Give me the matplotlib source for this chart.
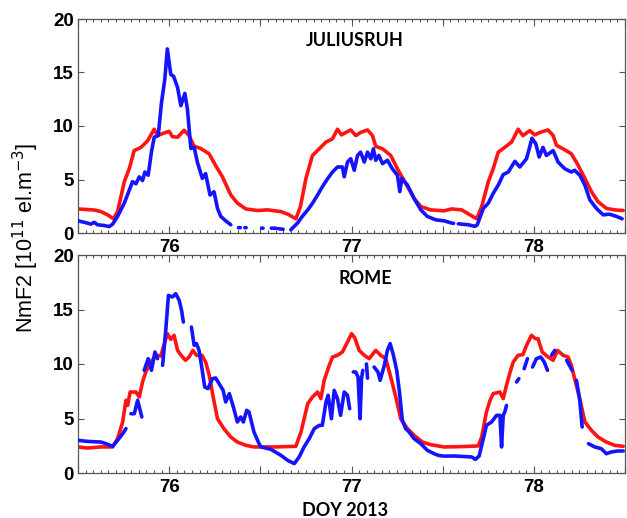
import numpy as np
import matplotlib
matplotlib.use("Agg")
import matplotlib.pyplot as plt
from matplotlib.ticker import MultipleLocator, FixedLocator, FixedFormatter

nan = np.nan

# ---- JULIUSRUH: model (red) and observed (blue) NmF2, 1e11 el/m^3 ----
jul_model_t = [75.498, 75.589, 75.626, 75.662, 75.695, 75.717, 75.754, 75.781, 75.808, 75.845,
               75.881, 75.918, 75.936, 75.973, 76.0, 76.018, 76.046, 76.082, 76.109, 76.137,
               76.173, 76.219, 76.255, 76.292, 76.338, 76.374, 76.42, 76.484, 76.54, 76.613,
               76.65, 76.695, 76.72, 76.75, 76.786, 76.823, 76.86, 76.896, 76.923, 76.945,
               76.969, 76.996, 77.024, 77.05, 77.088, 77.115, 77.133, 77.17, 77.215, 77.252,
               77.297, 77.343, 77.38, 77.434, 77.507, 77.549, 77.604, 77.65, 77.686, 77.714,
               77.75, 77.777, 77.805, 77.84, 77.878, 77.914, 77.94, 77.978, 78.005, 78.033,
               78.078, 78.106, 78.124, 78.16, 78.206, 78.243, 78.28, 78.316, 78.352, 78.398,
               78.443, 78.49]
jul_model_v = [2.25, 2.15, 2.0, 1.7, 1.33, 2.0, 4.8, 6.0, 7.7, 8.0,
               8.6, 9.7, 9.1, 9.35, 9.5, 9.0, 8.95, 9.6, 9.1, 8.1,
               7.9, 7.4, 6.3, 5.25, 3.55, 2.8, 2.25, 2.1, 2.16, 2.0,
               1.76, 1.33, 2.47, 5.1, 7.25, 7.87, 8.5, 8.8, 9.7, 9.17,
               9.4, 9.63, 9.1, 9.4, 9.63, 9.1, 8.1, 7.87, 7.25, 6.0,
               4.63, 3.24, 2.47, 2.16, 2.07, 2.25, 2.16, 1.7, 1.33, 2.47,
               4.78, 6.0, 7.56, 8.0, 8.5, 9.7, 9.1, 9.57, 9.17, 9.4,
               9.63, 9.1, 8.2, 7.87, 7.4, 6.33, 5.1, 3.86, 2.93, 2.3,
               2.16, 2.1]

jul_obs_t = [75.498, 75.535, 75.571, 75.589, 75.607, 75.644, 75.671, 75.69, 75.717, 75.754,
             75.781, 75.799, 75.818, 75.836, 75.854, 75.867, 75.885, 75.903, 75.918, 75.94,
             75.958, 75.976, 75.99, 76.009, 76.024, 76.046, 76.064, 76.086, 76.1, 76.119,
             76.137, 76.155, 76.182, 76.2, 76.224, 76.246, 76.265, 76.283, 76.31, 76.338,
             nan, 76.38, 76.39, nan, 76.415, 76.422, nan, 76.508, 76.515, nan, 76.56, 76.585,
             nan, 76.6, 76.625, nan,
             76.667, 76.704, 76.73, 76.76, 76.786, 76.814, 76.84, 76.87, 76.896, 76.923,
             76.95, 76.96, 76.978, 76.996, 77.015, 77.033, 77.05, 77.07, 77.088, 77.106,
             77.12, 77.133, 77.15, 77.17, 77.197, 77.224, 77.252, 77.265, 77.276, 77.307,
             77.343, 77.38, 77.416, 77.462, 77.507, 77.549, 77.56, nan, 77.586, 77.64,
             77.677, 77.69, 77.723, 77.75, 77.777, 77.805, 77.832, 77.86, 77.896, 77.923,
             77.96, 77.99, 78.011, 78.029, 78.05, 78.069, 78.106, 78.133, 78.17, 78.206,
             78.224, 78.252, 78.28, 78.307, 78.343, 78.38, 78.416, 78.453, 78.484]
jul_obs_v = [1.14, 1.0, 0.83, 1.0, 0.77, 0.7, 0.6, 0.83, 1.55, 2.8,
             4.0, 4.8, 4.6, 5.25, 4.9, 5.7, 5.4, 7.6, 8.95, 9.1,
             12.2, 14.35, 17.2, 14.8, 14.66, 13.6, 11.9, 13.05, 11.6, 7.9,
             8.0, 6.6, 5.1, 5.55, 3.55, 3.86, 2.3, 1.55, 1.14, 0.77,
             nan, 0.5, 0.5, nan, 0.5, 0.5, nan, 0.45, 0.45, nan, 0.45, 0.45,
             nan, 0.4, 0.35, nan,
             0.3, 0.93, 1.55, 2.16, 2.78, 3.55, 4.32, 5.1, 5.7, 6.17,
             6.17, 5.25, 6.63, 6.94, 5.86, 7.25, 7.56, 6.63, 7.56, 6.94,
             7.87, 6.8, 7.25, 6.48, 6.8, 6.0, 5.4, 3.86, 5.1, 4.48,
             3.24, 2.16, 1.55, 1.23, 1.14, 0.93, 0.9, nan, 0.86, 0.77,
             0.62, 0.77, 2.3, 2.78, 3.7, 4.48, 5.46, 5.7, 6.7, 6.17,
             6.94, 8.86, 8.33, 7.1, 8.0, 7.25, 7.7, 6.63, 6.0, 5.7,
             5.86, 5.4, 4.48, 3.1, 2.3, 1.7, 1.76, 1.55, 1.33]

# ---- ROME: model (red) and observed (blue) NmF2 ----
rom_model_t = [75.498, 75.553, 75.626, 75.69, 75.717, 75.745, 75.763, 75.772, 75.786, 75.818,
               75.836, 75.854, 75.872, 75.9, 75.927, 75.954, 75.976, 75.99, 76.009, 76.027,
               76.046, 76.073, 76.09, 76.109, 76.13, 76.15, 76.18, 76.2, 76.22, 76.243,
               76.265, 76.3, 76.338, 76.374, 76.42, 76.465, 76.58, 76.695, 76.723, 76.76,
               76.786, 76.814, 76.832, 76.85, 76.878, 76.896, 76.923, 76.95, 76.978, 77.0,
               77.018, 77.042, 77.07, 77.097, 77.133, 77.16, 77.188, 77.215, 77.243, 77.27,
               77.307, 77.343, 77.389, 77.434, 77.507, 77.6, 77.695, 77.714, 77.74, 77.76,
               77.777, 77.814, 77.832, 77.85, 77.87, 77.887, 77.914, 77.94, 77.96, 77.987,
               78.009, 78.023, 78.046, 78.078, 78.106, 78.13, 78.16, 78.188, 78.206, 78.224,
               78.252, 78.28, 78.316, 78.352, 78.398, 78.443, 78.49]
rom_model_v = [2.39, 2.29, 2.39, 2.39, 3.15, 4.68, 6.67, 6.2, 7.43, 7.43,
               6.97, 8.35, 9.27, 10.18, 10.8, 10.73, 12.0, 12.78, 12.26, 12.63,
               11.25, 10.64, 10.34, 10.64, 11.25, 10.8, 10.8, 10.18, 8.96, 6.82,
               4.98, 4.07, 3.3, 2.84, 2.54, 2.39, 2.39, 2.45, 3.76, 6.36,
               6.97, 7.43, 6.82, 8.5, 9.88, 10.64, 10.8, 11.1, 12.02, 12.78,
               12.39, 11.25, 10.8, 10.49, 11.25, 10.8, 10.49, 8.81, 6.97, 4.98,
               4.07, 3.46, 2.84, 2.6, 2.39, 2.42, 2.48, 3.3, 5.6, 6.67,
               7.28, 7.43, 6.82, 8.04, 9.27, 10.18, 10.8, 10.86, 11.71, 12.63,
               12.32, 12.32, 11.1, 10.64, 10.34, 11.25, 10.8, 10.64, 9.88, 8.65,
               6.82, 4.68, 3.91, 3.3, 2.84, 2.54, 2.45]

rom_obs_t = [75.498, 75.553, 75.626, 75.653, 75.69, 75.717, 75.745, 75.763, nan,
             75.79, 75.809, 75.827, 75.85, nan,
             75.863, 75.885, 75.903, 75.922, 75.936, nan,
             75.964, 75.982, 75.996, 76.018, 76.036, 76.055, 76.068, 76.078, nan,
             76.122, 76.137, 76.15, 76.164, 76.18, 76.195, 76.213, 76.237, 76.255, 76.274,
             76.296, 76.31, 76.33, 76.352, 76.374, 76.392, 76.407, 76.425, 76.438, 76.465,
             76.493, 76.504, 76.558, 76.613, 76.65, 76.686, 76.713, 76.74, 76.768, 76.796,
             76.823, 76.84, 76.86, 76.872, 76.89, 76.905, 76.923, 76.94, 76.96, 76.978,
             76.99, nan,
             77.01, 77.023, 77.036, 77.047, 77.055, 77.062, nan,
             77.082, 77.088, nan,
             77.124, 77.145, 77.157, 77.18, 77.197, 77.212, 77.23, 77.248, 77.263, 77.279,
             77.297, 77.316, 77.343, 77.38, 77.416, 77.453, 77.48, 77.507, 77.567, 77.659,
             77.68, 77.7, 77.723, 77.74, 77.768, 77.796, 77.814, 77.823, 77.832, 77.841,
             77.85, nan,
             77.905, 77.918, nan,
             77.947, 77.965, nan,
             77.993, 78.014, 78.038, 78.057, 78.075, nan,
             78.097, 78.115, nan,
             78.18, 78.2, 78.21, nan,
             78.234, 78.252, 78.265, nan,
             78.3, 78.334, 78.37, 78.398, 78.425, 78.46, 78.49]
rom_obs_v = [3.0, 2.9, 2.84, 2.69, 2.45, 3.0, 3.6, 4.07, nan,
             5.44, 5.44, 6.67, 5.14, nan,
             9.42, 10.49, 9.42, 11.1, 10.49, nan,
             9.88, 13.24, 16.3, 16.15, 16.45, 15.84, 14.92, 13.85, nan,
             13.39, 11.71, 11.87, 11.25, 9.57, 7.89, 7.74, 8.65, 8.72, 8.2,
             7.58, 6.51, 7.28, 6.06, 4.68, 5.14, 4.68, 5.75, 5.6, 3.76,
             2.69, 2.39, 2.17, 1.62, 1.16, 0.86, 1.47, 2.39, 3.15, 4.07,
             4.37, 4.37, 6.51, 7.13, 4.98, 7.58, 6.82, 5.29, 7.43, 7.13,
             5.9, nan,
             9.27, 9.27, 8.8, 4.98, 8.65, 9.42, nan,
             10.0, 8.7, nan,
             9.72, 9.27, 8.5, 9.88, 11.25, 11.87, 10.8, 9.42, 7.43, 4.83,
             4.07, 3.76, 3.15, 2.69, 2.08, 1.77, 1.6, 1.55, 1.56, 1.47,
             1.25, 1.56, 3.15, 4.37, 4.68, 5.29, 5.29, 2.39, 5.29, 5.6,
             6.2, nan,
             8.35, 8.65, nan,
             9.57, 10.49, nan,
             9.72, 10.49, 10.64, 10.18, 9.42, nan,
             10.8, 11.25, nan,
             10.34, 9.72, 9.42, nan,
             8.5, 6.67, 4.22, nan,
             2.69, 2.39, 2.23, 1.77, 1.93, 2.02, 2.02]

# station name, name position (axes fraction), model series, observed series
panels = [("JULIUSRUH", (0.505, 0.90), jul_model_t, jul_model_v, jul_obs_t, jul_obs_v),
          ("ROME", (0.525, 0.89), rom_model_t, rom_model_v, rom_obs_t, rom_obs_v)]

day_ticks = [75.5, 76, 76.5, 77, 77.5, 78, 78.5]
day_labels = ["", "76", "", "77", "", "78", ""]
y_ticks = [0, 5, 10, 15, 20]

W, H = 627, 518
fig = plt.figure(figsize=(W / 100, H / 100), dpi=100)

tick_family = "Liberation Sans"
label_family = "Lato"
axis_grey = "#555555"

# axes rectangles in pixel units: (left, top, right, bottom)
rects = [(78, 19, 625, 233), (78, 255, 625, 473)]

for (name, npos, mt, mv, ot, ov), (l, t, r, b) in zip(panels, rects):
    ax = fig.add_axes([l / W, 1 - b / H, (r - l) / W, (b - t) / H])
    ax.plot(mt, mv, color="#ff1414", lw=2.6, solid_capstyle="round", zorder=2)
    ax.plot(ot, ov, color="#1414ff", lw=2.6, solid_capstyle="round", zorder=3)
    ax.set_xlim(75.5, 78.5)
    ax.set_ylim(0, 20)

    # major ticks every half day, labels on whole days, hourly minor ticks
    ax.xaxis.set_major_locator(FixedLocator(day_ticks))
    ax.xaxis.set_major_formatter(FixedFormatter(day_labels))
    ax.xaxis.set_minor_locator(MultipleLocator(1 / 24))
    ax.yaxis.set_major_locator(FixedLocator(y_ticks))
    ax.set_yticklabels([str(v) for v in y_ticks])

    ax.tick_params(axis="both", which="both", direction="in", top=True, right=True,
                   color=axis_grey, width=0.8)
    ax.tick_params(axis="x", which="major", length=5, pad=4)
    ax.tick_params(axis="x", which="minor", length=2.5)
    ax.tick_params(axis="y", which="major", length=4, pad=3)
    for lab in ax.get_xticklabels() + ax.get_yticklabels():
        lab.set_fontfamily(tick_family)
        lab.set_fontweight("bold")
        lab.set_fontsize(13.5)
    for sp in ax.spines.values():
        sp.set_color(axis_grey)
        sp.set_linewidth(0.9)

    ax.text(npos[0], npos[1], name, transform=ax.transAxes, ha="center", va="center",
            fontsize=13, fontweight="bold", family=label_family)

fig.text(345 / W, 1 - 510 / H, "DOY 2013", ha="center", va="center",
         fontsize=13, fontweight="bold", family=label_family)
fig.text(26 / W, 1 - 238 / H, r"NmF2 [10$^{11}$ el.m$^{-3}$]", rotation=90,
         ha="center", va="center", fontsize=15.5, family=tick_family)

fig.savefig("out.png", dpi=100)
